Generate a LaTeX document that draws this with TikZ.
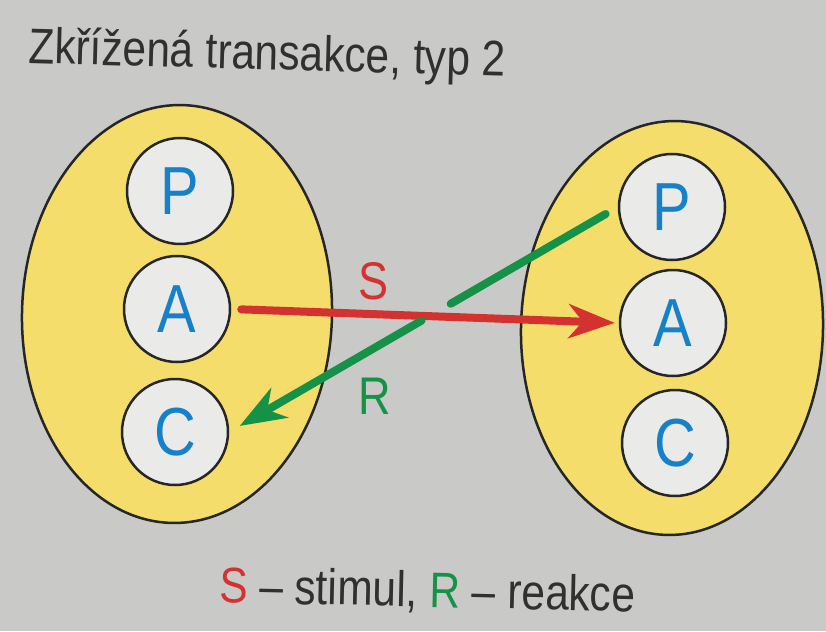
\documentclass[tikz,border=0pt]{standalone}
\usepackage{fontspec}
\setmainfont[FakeStretch=0.85]{Liberation Sans}
\usetikzlibrary{arrows.meta,calc}

\definecolor{bggray}{RGB}{201,201,199}
\definecolor{titlegray}{RGB}{48,48,48}
\definecolor{paleyellow}{RGB}{244,221,106}
\definecolor{circfill}{RGB}{234,234,232}
\definecolor{letterblue}{RGB}{22,128,200}
\definecolor{stimred}{RGB}{212,50,48}
\definecolor{reacgreen}{RGB}{22,146,72}

\begin{document}
\begin{tikzpicture}[x=1pt,y=-1pt,
		person/.style={draw=black!85,line width=2.5pt,fill=paleyellow},
		ego/.style={circle,draw=black!85,line width=2.5pt,fill=circfill,minimum size=106pt,inner sep=0pt,
				text=letterblue,font=\fontsize{68}{68}\selectfont},
		tip/.style={-{Stealth[length=46pt,width=34pt,inset=14pt]}},
		stim/.style={draw=stimred,line width=8pt,line cap=round,tip},
		resp/.style={draw=reacgreen,line width=8pt,line cap=round},
		big/.style={font=\fontsize{50}{60}\selectfont,inner sep=0pt}]
			\def\tilt{-1.6}

			% Background
			\fill[bggray] (0,0) rectangle (826,631);
			\useasboundingbox (0,0) rectangle (826,631);

			% Title
			\node[big,anchor=base west,rotate=\tilt,text=titlegray] (title) at (28,63) {Zkřížená transakce, typ 2};

			% The two persons
			\draw[person,rotate around={\tilt:(177,314)}] (177,314) ellipse (155 and 209);
			\draw[person,rotate around={\tilt:(672,328)}] (672,328) ellipse (151 and 207);

			% Ego states, left person
			\foreach \s/\x/\y in {P/180/191, A/177/309, C/175/432}
				\node[ego] (l\s) at (\x,\y) {\s};

			% Ego states, right person
			\foreach \s/\x/\y in {P/672/207, A/673/323, C/675/443}
				\node[ego] (r\s) at (\x,\y) {\s};

			% Stimulus
			\draw[stim,shorten <=10pt,shorten >=4pt] (lA.east) -- (rA.west);

			% Response, broken where it crosses the stimulus
			\coordinate (gapA) at ($(rP.west)!0.43!(lC.east)$);
			\coordinate (gapB) at ($(rP.west)!0.505!(lC.east)$);
			\draw[resp,shorten <=14pt] (rP.west) -- (gapA);
			\draw[resp,tip,shorten >=12pt] (gapB) -- (lC.east);

			% Labels
			\node[big,font=\fontsize{53}{60}\selectfont,text=stimred] (slabel) at (374,281) {S};
			\node[big,font=\fontsize{53}{60}\selectfont,text=reacgreen] (rlabel) at (375,396) {R};

			% Legend
			\node[big,anchor=base,rotate=-1.3,text=titlegray] (legend) at (427,607)
				{\textcolor{stimred}{S} – stimul, \textcolor{reacgreen}{R} – reakce};

		\end{tikzpicture}
\end{document}
